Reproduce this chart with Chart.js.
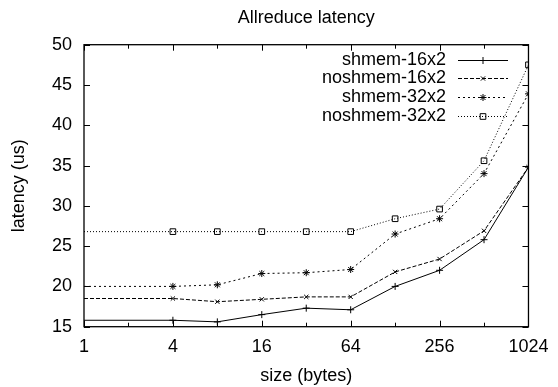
<!DOCTYPE html>
<html>
<head>
<meta charset="utf-8">
<script src="https://cdn.jsdelivr.net/npm/chart.js@4/dist/chart.umd.min.js"></script>
<style>
  html, body { margin: 0; padding: 0; background: #fff; }
  #wrap { width: 558px; height: 387px; }
</style>
</head>
<body>
<div id="wrap"><canvas id="latencyChart" width="558" height="387"></canvas></div>
<script>
// message sizes (bytes) and latencies (us)
const sizes = [1, 4, 8, 16, 32, 64, 128, 256, 512, 1024];
const shmem16 = [15.8, 15.8, 15.6, 16.5, 17.3, 17.1, 20.0, 22.0, 25.8, 34.8];
const noshmem16 = [18.5, 18.5, 18.1, 18.4, 18.7, 18.7, 21.8, 23.4, 26.9, 34.8];
const shmem32 = [20.0, 20.0, 20.2, 21.6, 21.7, 22.1, 26.5, 28.4, 34.0, 43.9];
const noshmem32 = [26.8, 26.8, 26.8, 26.8, 26.8, 26.8, 28.4, 29.6, 35.6, 47.5];

// axis ticks
const xTicks = [1, 2, 4, 8, 16, 32, 64, 128, 256, 512, 1024];
const xLabels = [1, 4, 16, 64, 256, 1024];
const yTicks = [15, 20, 25, 30, 35, 40, 45, 50];

const FONT = "'Liberation Sans', Arial, Helvetica, sans-serif";

function toPoints(values) {
    return sizes.map((s, i) => ({ x: s, y: values[i] }));
}

// hide the marker sitting on the left border (gnuplot does not show it)
const radius = r => ctx => ctx.dataIndex === 0 ? 0 : r;

function series(label, values, dash, style, r) {
    return {
        label: label,
        data: toPoints(values),
        borderColor: '#000',
        backgroundColor: 'rgba(0,0,0,0)',
        borderWidth: 1,
        borderDash: dash,
        pointStyle: style,
        pointRadius: radius(r),
        pointBorderColor: '#000',
        pointBackgroundColor: 'rgba(0,0,0,0)',
        pointBorderWidth: 1,
        tension: 0,
        legendRadius: r
    };
}

// inward tick marks on all four sides + frame
const frameTicks = {
    id: 'frameTicks',
    afterDatasetsDraw(chart) {
        const { ctx, chartArea: a, scales } = chart;
        ctx.save();
        ctx.strokeStyle = '#000';
        ctx.lineWidth = 1;
        ctx.beginPath();
        yTicks.forEach(v => {
            const y = Math.round(scales.y.getPixelForValue(v)) + 0.5;
            ctx.moveTo(a.left, y); ctx.lineTo(a.left + 6, y);
            ctx.moveTo(a.right, y); ctx.lineTo(a.right - 6, y);
        });
        xTicks.forEach(v => {
            const x = Math.round(scales.x.getPixelForValue(v)) + 0.5;
            const len = xLabels.includes(v) ? 6 : 4;
            ctx.moveTo(x, a.bottom); ctx.lineTo(x, a.bottom - len);
            ctx.moveTo(x, a.top); ctx.lineTo(x, a.top + len);
        });
        ctx.stroke();
        ctx.lineWidth = 1.3;
        ctx.strokeRect(a.left, a.top, a.right - a.left, a.bottom - a.top);
        ctx.restore();
    }
};

// gnuplot-style key: text right-aligned, sample line with marker to the right
const gnuKey = {
    id: 'gnuKey',
    afterDraw(chart) {
        const ctx = chart.ctx;
        ctx.save();
        ctx.font = '18px ' + FONT;
        ctx.textAlign = 'right';
        ctx.textBaseline = 'middle';
        chart.data.datasets.forEach((ds, i) => {
            const y = Math.round(59.5 + i * 18.8) + 0.5;
            ctx.fillStyle = '#000';
            ctx.fillText(ds.label, 446, y);
            ctx.strokeStyle = ds.borderColor;
            ctx.lineWidth = ds.borderWidth;
            ctx.setLineDash(ds.borderDash);
            ctx.beginPath();
            ctx.moveTo(458, y);
            ctx.lineTo(508, y);
            ctx.stroke();
            ctx.setLineDash([]);
            ctx.fillStyle = 'rgba(0,0,0,0)';
            ctx.strokeStyle = '#000';
            Chart.helpers.drawPoint(ctx, {
                pointStyle: ds.pointStyle,
                radius: ds.legendRadius,
                rotation: 0,
                borderWidth: 1
            }, 483, y);
        });
        ctx.restore();
    }
};

new Chart(document.getElementById('latencyChart'), {
    type: 'line',
    data: {
        datasets: [
            series('shmem-16x2', shmem16, [], 'cross', 3.5),
            series('noshmem-16x2', noshmem16, [4, 2], 'crossRot', 3),
            series('shmem-32x2', shmem32, [2, 3], 'star', 3.5),
            series('noshmem-32x2', noshmem32, [1, 2], 'rect', 4)
        ]
    },
    options: {
        responsive: false,
        devicePixelRatio: 1,
        animation: false,
        events: [],
        layout: { padding: { left: 0, right: 26.5, top: 0, bottom: 0 } },
        plugins: {
            legend: { display: false },
            tooltip: { enabled: false },
            title: {
                display: true,
                text: 'Allreduce latency',
                fullSize: false,
                color: '#000',
                font: { family: FONT, size: 18, weight: 'normal' },
                padding: { top: 7, bottom: 16.1 }
            }
        },
        scales: {
            x: {
                type: 'logarithmic',
                min: 1,
                max: 1024,
                afterBuildTicks: axis => {
                    axis.ticks = xTicks.map(v => ({ value: v }));
                },
                afterFit: axis => { axis.height = 60.3; },
                grid: { display: false, drawTicks: false },
                border: { display: false },
                ticks: {
                    autoSkip: false,
                    maxRotation: 0,
                    padding: 9.5,
                    color: '#000',
                    font: { family: FONT, size: 18 },
                    callback: value => xLabels.includes(value) ? String(value) : ''
                },
                title: {
                    display: true,
                    text: 'size (bytes)',
                    color: '#000',
                    font: { family: FONT, size: 18 },
                    padding: { top: 0, bottom: 0 }
                }
            },
            y: {
                min: 15,
                max: 50,
                afterFit: axis => { axis.width = 84; },
                grid: { display: false, drawTicks: false },
                border: { display: false },
                ticks: {
                    stepSize: 5,
                    padding: 12,
                    color: '#000',
                    font: { family: FONT, size: 18 }
                },
                title: {
                    display: true,
                    text: 'latency (us)',
                    color: '#000',
                    font: { family: FONT, size: 18 },
                    padding: { top: 8, bottom: 0 }
                }
            }
        }
    },
    plugins: [frameTicks, gnuKey]
});
</script>
</body>
</html>
